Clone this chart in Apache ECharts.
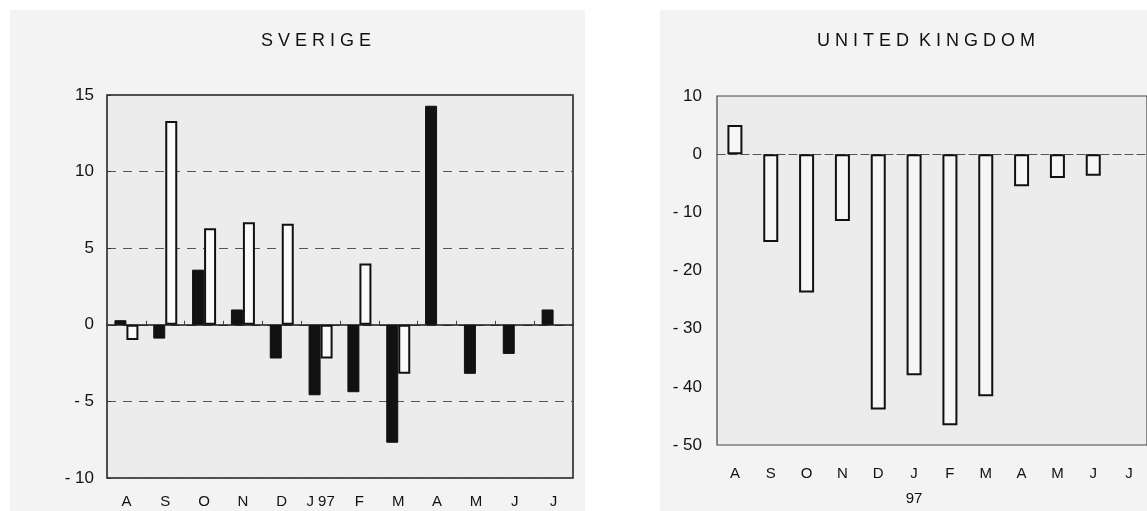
<!DOCTYPE html>
<html><head><meta charset="utf-8">
<script src="https://cdn.jsdelivr.net/npm/echarts@6/dist/echarts.min.js"></script>
<style>html,body{margin:0;padding:0;background:#fff;}#c{width:1147px;height:511px;}</style>
</head><body><div id="c"></div>
<script>
// ---- data ----
const leftTitle = 'S V E R I G E';
const rightTitle = 'U N I T E D  K I N G D O M';
const leftCategories = ['A','S','O','N','D','J 97','F','M','A','M','J','J'];
const rightCategories = ['A','S','O','N','D','J\n97','F','M','A','M','J','J'];
const sverigeBlack = [0.3,-0.9,3.6,1.0,-2.2,-4.6,-4.4,-7.7,14.3,-3.2,-1.9,1.0];
const sverigeWhite = [-1.0,13.3,6.3,6.7,6.6,-2.2,4.0,-3.2,null,null,null,null];
const ukValues = [5.0,-15.1,-23.8,-11.5,-43.9,-38.0,-46.6,-41.6,-5.5,-4.1,-3.7,null];

const fmt = v => v < 0 ? '- ' + Math.abs(v) : String(v);
const txt = '#111';
const font = 'Liberation Sans, Arial, sans-serif';

const chart = echarts.init(document.getElementById('c'), null, {renderer:'canvas'});
chart.setOption({
  backgroundColor: '#ffffff',
  animation: false,
  graphic: [
    {type:'rect', z:-10, shape:{x:10,y:10,width:575,height:501}, style:{fill:'#f3f3f3'}},
    {type:'rect', z:-10, shape:{x:660,y:10,width:487,height:501}, style:{fill:'#f3f3f3'}}
  ],
  title: [
    {text:leftTitle, left:311, top:27, textAlign:'center', textStyle:{fontFamily:font,fontSize:18,fontWeight:'normal',color:txt}},
    {text:rightTitle, left:921, top:27, textAlign:'center', textStyle:{fontFamily:font,fontSize:18,fontWeight:'normal',color:txt}}
  ],
  grid: [
    {left:107, top:95, width:466, height:383, show:true, backgroundColor:'#ececec', borderColor:'#1a1a1a', borderWidth:1.5},
    {left:717, top:96, width:430, height:357, show:true, backgroundColor:'#ececec', borderColor:'#444', borderWidth:1.2}
  ],
  xAxis: [
    {gridIndex:0, type:'category', data:leftCategories, axisLine:{show:false, onZero:false}, axisTick:{show:false},
     axisLabel:{fontFamily:font, fontSize:15, color:txt, margin:16}},
    {gridIndex:0, type:'category', data:leftCategories, position:'bottom', axisLine:{onZero:true, lineStyle:{color:'#1a1a1a', width:1.5}},
     axisTick:{show:true, length:4, inside:true, lineStyle:{color:'#444'}}, axisLabel:{show:false}},
    {gridIndex:1, type:'category', data:rightCategories, axisLine:{show:false, onZero:false}, axisTick:{show:false},
     axisLabel:{fontFamily:font, fontSize:15, color:txt, margin:16, lineHeight:25}},
    {gridIndex:1, type:'category', data:rightCategories, position:'bottom', axisLine:{onZero:true, lineStyle:{color:'#555', width:1.2, type:[8,4]}},
     axisTick:{show:false}, axisLabel:{show:false}}
  ],
  yAxis: [
    {gridIndex:0, type:'value', min:-10, max:15, interval:5, axisLine:{show:false}, axisTick:{show:true, inside:true, length:4, lineStyle:{color:'#333'}},
     splitLine:{show:true, lineStyle:{color:'#555', width:1, type:[9,7]}},
     axisLabel:{fontFamily:font, fontSize:17, color:txt, margin:13, formatter:fmt}},
    {gridIndex:1, type:'value', min:-50, max:10, interval:10, axisLine:{show:false}, axisTick:{show:false},
     splitLine:{show:false},
     axisLabel:{fontFamily:font, fontSize:17, color:txt, margin:15, formatter:fmt}}
  ],
  series: [
    {type:'bar', xAxisIndex:0, yAxisIndex:0, data:sverigeBlack, barWidth:12, barGap:'0%',
     itemStyle:{color:'#111', borderColor:'#111', borderWidth:1}},
    {type:'bar', xAxisIndex:0, yAxisIndex:0, data:sverigeWhite, barWidth:12, barGap:'0%',
     itemStyle:{color:'#fafafa', borderColor:'#111', borderWidth:2}},
    {type:'bar', xAxisIndex:2, yAxisIndex:1, data:ukValues, barWidth:15,
     itemStyle:{color:'#f6f6f6', borderColor:'#111', borderWidth:2}}
  ]
});
</script></body></html>
